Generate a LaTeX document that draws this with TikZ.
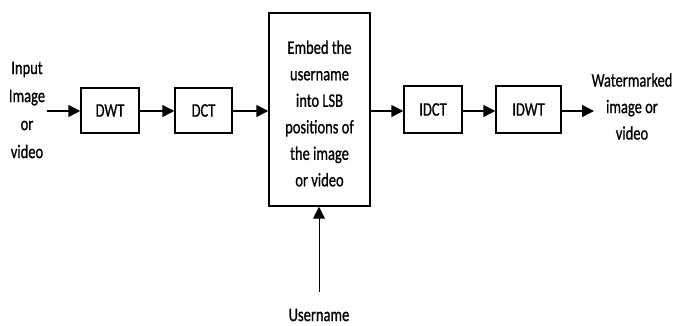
\documentclass[tikz,border=0pt]{standalone}
\usepackage{fontspec}
\setmainfont{Carlito}[FakeBold=1.0]
\usetikzlibrary{arrows.meta}
\newcommand{\tl}[1]{\scalebox{1}[1.32]{#1}}
\begin{document}
\begin{tikzpicture}[x=1pt,y=-1pt,
  txt/.style={font=\fontsize{14.5}{26.5}\selectfont, align=center, inner sep=0pt},
  blk/.style={draw, line width=1.5pt, inner sep=0pt, font=\fontsize{14.5}{26.5}\selectfont, align=center},
  arr/.style={line width=1.5pt, -{Triangle[length=12pt,width=12pt]}}]
\useasboundingbox (0,0) rectangle (673,326);
\node[txt, font=\fontsize{14.5}{28}\selectfont] (in) at (27,110) {\tl{Input}\\\tl{Image}\\\tl{or}\\\tl{video}};
\coordinate (inS) at (47,111);
\node[blk, minimum width=58, minimum height=45] (dwt) at (110,110.5) {\tl{DWT}};
\node[blk, minimum width=57, minimum height=45] (dct) at (203.5,110.5) {\tl{DCT}};
\node[blk, minimum width=101, minimum height=193] (emb) at (319.5,109.5) {};
\node[txt] (embt) at (319.5,113.5) {\tl{Embed the}\\\tl{username}\\\tl{into LSB}\\\tl{positions of}\\\tl{the image}\\\tl{or video}};
\node[blk, minimum width=58, minimum height=47] (idct) at (433,109.5) {\tl{IDCT}};
\node[blk, minimum width=65, minimum height=47] (idwt) at (528.5,109.5) {\tl{IDWT}};
\node[txt] (out) at (632,106.5) {\tl{Watermarked}\\\tl{image or}\\\tl{video}};
\coordinate (outE) at (594,111);
\node[txt] (user) at (319,315) {\tl{Username}};
\coordinate (userS) at (319,292);
\draw[arr] (inS) -- (inS -| dwt.west);
\draw[arr] (dwt.east |- inS) -- (dct.west |- inS);
\draw[arr] (dct.east |- inS) -- (emb.west |- inS);
\draw[arr] (emb.east |- inS) -- (idct.west |- inS);
\draw[arr] (idct.east |- inS) -- (idwt.west |- inS);
\draw[arr] (idwt.east |- inS) -- (outE);
\draw[arr, line width=1pt] (userS) -- (userS |- emb.south);
\end{tikzpicture}
\end{document}
